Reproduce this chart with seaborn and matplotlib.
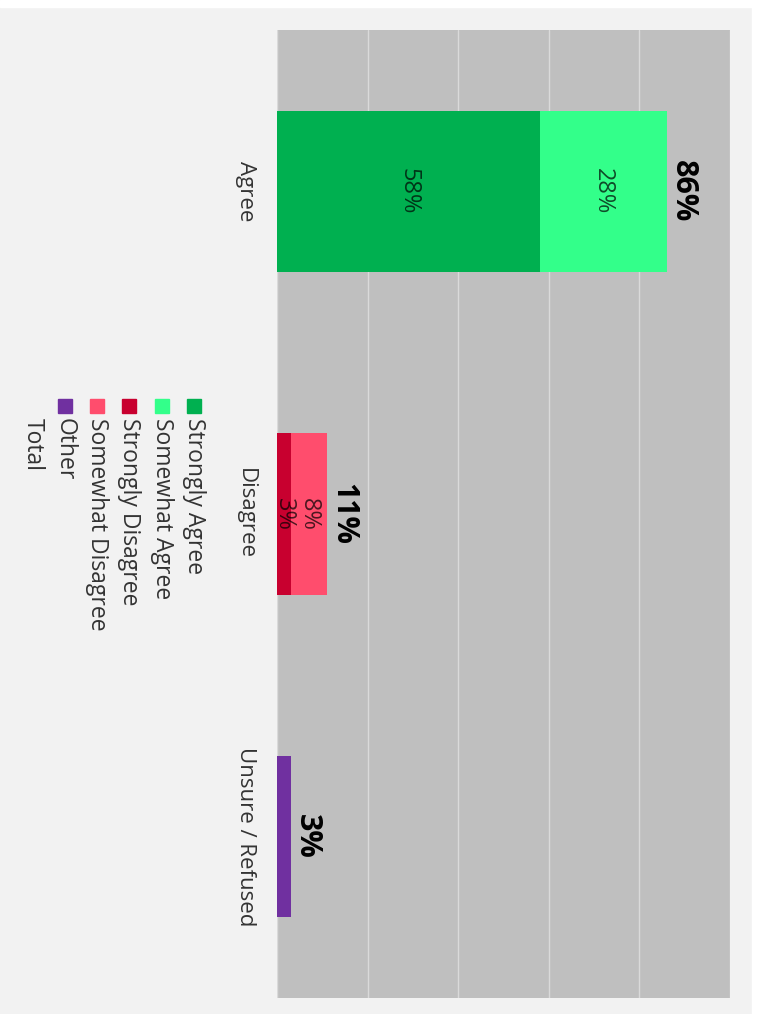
import numpy as np
import pandas as pd
import seaborn as sns
import matplotlib.pyplot as plt
from matplotlib.patches import Rectangle

# Agreement survey, stacked bars drawn sideways (everything rotated a quarter turn).
categories = ['Agree', 'Disagree', 'Unsure / Refused']
strongly_agree = [58, 0, 0]
somewhat_agree = [28, 0, 0]
strongly_disagree = [0, 3, 0]
somewhat_disagree = [0, 8, 0]
other = [0, 0, 3]
totals = [86, 11, 3]

series_names = ['Strongly Agree', 'Somewhat Agree', 'Strongly Disagree', 'Somewhat Disagree', 'Other']
series_colors = ['#00b050', '#33ff8a', '#c8002f', '#ff4d6d', '#7030a0']
legend_labels = series_names + ['Total']

sns.set_theme(style='white')
plt.rcParams['font.family'] = ['Open Sans', 'DejaVu Sans']

# Build the stack as cumulative sums.
series = [strongly_agree, somewhat_agree, strongly_disagree, somewhat_disagree, other]
cum = np.cumsum(np.array(series), axis=0)
df = pd.DataFrame({'category': categories})
for i, name in enumerate(series_names):
    df[name] = cum[i]

fig = plt.figure(figsize=(7.6, 10.14), dpi=100, facecolor='#f2f2f2')
ax = fig.add_axes([277 / 760, 1 - 998 / 1014, (730 - 277) / 760, (998 - 30) / 1014])
ax.set_facecolor('#bfbfbf')

# Draw from the outermost layer in so the inner segments sit on top.
for name, color in reversed(list(zip(series_names, series_colors))):
    sns.barplot(data=df, x=name, y='category', orient='h', color=color,
                width=0.5, saturation=1, linewidth=0, ax=ax, zorder=3)

ax.set_xlim(0, 100)
ax.set_ylim(2.5, -0.5)
ax.set_xticks([0, 20, 40, 60, 80, 100])
ax.set_xticklabels([])
ax.grid(axis='x', color='#dadada', linewidth=1.0, zorder=1)
ax.set_axisbelow(True)
for s in ax.spines.values():
    s.set_visible(False)
ax.set_xlabel('')
ax.set_ylabel('')
ax.set_yticks(range(len(categories)))
ax.set_yticklabels(categories, rotation=-90, ha='right', va='center',
                   fontsize=16, color='#333333')
ax.tick_params(axis='y', length=0, pad=15)
ax.tick_params(axis='x', length=0)

# Segment labels inside the bars.
prev = np.zeros(len(categories))
for i, vals in enumerate(series):
    for j, v in enumerate(vals):
        if v > 0 and series_names[i] != 'Other':
            ax.text(prev[j] + v / 2, j, f'{v}%', rotation=-90, ha='center', va='center',
                    fontsize=17, color='black', alpha=0.7, zorder=5)
    prev = prev + np.array(vals)

# Totals at the end of each bar.
for j, t in enumerate(totals):
    ax.annotate(f'{t}%', xy=(t, j), xytext=(1, 0), textcoords='offset points',
                rotation=-90, ha='left', va='center', fontsize=22,
                fontweight='bold', color='black', zorder=5)

# Legend, turned like the rest of the chart.
W, H = 760, 1014
for k, lab in enumerate(legend_labels):
    xc = 194 - k * 32.3
    if k < len(series_colors):
        fig.patches.append(Rectangle(((xc - 7) / W, 1 - 413 / H), 14 / W, 14 / H,
                                     transform=fig.transFigure, color=series_colors[k]))
    fig.text(xc / W, 1 - 418 / H, lab, rotation=-90, ha='center', va='top',
             fontsize=16.5, color='#333333')

# Thin white border along the top and the right.
fig.patches.append(Rectangle((0, 1 - 7 / H), 1, 7 / H, transform=fig.transFigure,
                             color='white', zorder=0))
fig.patches.append(Rectangle((752 / W, 0), 8 / W, 1, transform=fig.transFigure,
                             color='white', zorder=0))

fig.savefig('out.png', dpi=100, facecolor=fig.get_facecolor())
